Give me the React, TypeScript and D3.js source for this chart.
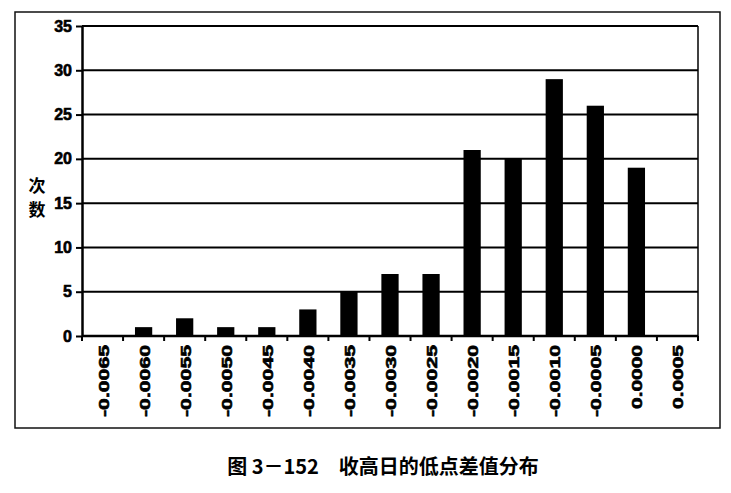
import * as d3 from 'd3';
import React, { useEffect, useRef } from 'react';

const categories = [
    '-0.0065', '-0.0060', '-0.0055', '-0.0050', '-0.0045', '-0.0040', '-0.0035', '-0.0030',
    '-0.0025', '-0.0020', '-0.0015', '-0.0010', '-0.0005', '0.0000', '0.0005',
];
const counts = [0, 1, 2, 1, 1, 3, 5, 7, 7, 21, 20, 29, 26, 19, 0];
const yTicks = [0, 5, 10, 15, 20, 25, 30, 35];
const yTitle = ['次', '数'];
const caption = '图 3－152　收高日的低点差值分布';

export default function App() {
    const ref = useRef<SVGSVGElement>(null);
    const width = 731;
    const height = 493;
    const margin = { top: 26, left: 82, right: 33, bottom: 157 };
    const innerWidth = width - margin.left - margin.right;
    const innerHeight = height - margin.top - margin.bottom;

    useEffect(() => {
        const svg = d3.select(ref.current);
        svg.selectAll('*').remove();

        // outer frame
        svg.append('rect')
            .attr('x', 15).attr('y', 12)
            .attr('width', 705).attr('height', 416)
            .attr('fill', 'none').attr('stroke', '#111').attr('stroke-width', 1.5);

        const g = svg.append('g').attr('transform', `translate(${margin.left},${margin.top})`);

        const x = d3.scaleBand().domain(categories).range([0, innerWidth]).paddingInner(0.58).paddingOuter(0.29);
        const xEdge = d3.scaleBand().domain(categories).range([0, innerWidth]);
        const y = d3.scaleLinear().domain([0, 35]).range([innerHeight, 0]);

        // gridlines
        g.selectAll('.grid')
            .data(yTicks)
            .join('line')
            .attr('x1', 0).attr('x2', innerWidth)
            .attr('y1', (d) => y(d)).attr('y2', (d) => y(d))
            .attr('stroke', '#000').attr('stroke-width', 2);

        // right border
        g.append('line')
            .attr('x1', innerWidth).attr('x2', innerWidth)
            .attr('y1', 0).attr('y2', innerHeight)
            .attr('stroke', '#000').attr('stroke-width', 1.5);

        // bars
        g.selectAll('.bar')
            .data(counts)
            .join('rect')
            .attr('x', (d, i) => x(categories[i])!)
            .attr('width', x.bandwidth())
            .attr('y', (d) => y(d))
            .attr('height', (d) => innerHeight - y(d))
            .attr('fill', '#000');

        // y axis
        const yAxis = g.append('g').call(d3.axisLeft(y).tickValues(yTicks).tickSize(6).tickSizeOuter(0));
        yAxis.select('.domain').attr('stroke-width', 2.5);
        yAxis.selectAll('line').attr('stroke-width', 2);
        yAxis.selectAll('text')
            .attr('font-family', 'Liberation Sans, Arial, sans-serif')
            .attr('font-weight', 'bold')
            .attr('font-size', 16)
            .attr('stroke', '#000').attr('stroke-width', 0.6)
            .attr('dx', -1);

        // x axis ticks at band edges
        const xg = g.append('g').attr('transform', `translate(0,${innerHeight})`);
        xg.append('line').attr('x1', 0).attr('x2', innerWidth).attr('stroke', '#000').attr('stroke-width', 2.5);
        xg.selectAll('.xt')
            .data([...categories.map((c) => xEdge(c)!), innerWidth])
            .join('line')
            .attr('x1', (d) => d).attr('x2', (d) => d)
            .attr('y1', 0).attr('y2', 5)
            .attr('stroke', '#000').attr('stroke-width', 2);
        xg.selectAll('.xl')
            .data(categories)
            .join('text')
            .attr('transform', (d) => `translate(${xEdge(d)! + xEdge.bandwidth() / 2 + 6},9) rotate(-90)`)
            .attr('text-anchor', 'end')
            .attr('font-family', 'Liberation Sans, Arial, sans-serif')
            .attr('font-weight', 'bold')
            .attr('font-size', 15)
            .attr('textLength', (d) => (d.startsWith('-') ? 72 : 64))
            .attr('lengthAdjust', 'spacingAndGlyphs')
            .attr('stroke', '#000').attr('stroke-width', 0.6)
            .text((d) => d);

        // y title
        svg.selectAll('.yt')
            .data(yTitle)
            .join('text')
            .attr('x', 37)
            .attr('y', (d, i) => 192 + i * 24)
            .attr('text-anchor', 'middle')
            .attr('font-family', 'Noto Sans CJK SC, sans-serif')
            .attr('font-weight', 'bold')
            .attr('font-size', 17)
            .text((d) => d);

        // caption
        svg.append('text')
            .attr('x', 383)
            .attr('y', 474)
            .attr('text-anchor', 'middle')
            .attr('font-family', 'Noto Sans CJK SC, sans-serif')
            .attr('font-weight', 'bold')
            .attr('font-size', 20)
            .text(caption);
    }, []);

    return (
        <svg
            ref={ref}
            width={width}
            height={height}
            style={{ position: 'absolute', left: 0, top: 0, background: '#fff' }}
        ></svg>
    );
}
